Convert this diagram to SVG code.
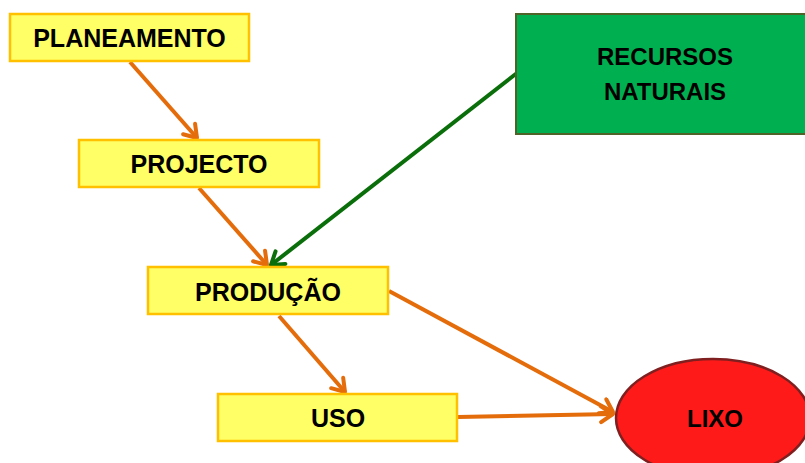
<svg xmlns="http://www.w3.org/2000/svg" width="805" height="463" viewBox="0 0 805 463">
<style>
  .ybox{fill:#FFFF66;stroke:#FFC000;stroke-width:2.5}
  .lbl{font-family:"Liberation Sans",Arial,sans-serif;font-weight:bold;font-size:25px;fill:#000;text-anchor:middle}
  .or{stroke:#E46C0A;stroke-width:4;fill:none;marker-end:url(#ao)}
  .gr{stroke:#0A6E0A;stroke-width:4;fill:none;marker-end:url(#ag)}
</style>
<defs>
  <marker id="ao" markerUnits="userSpaceOnUse" markerWidth="24" markerHeight="24" refX="15" refY="10" orient="auto">
    <path d="M3,2 L15,10 L3,18" fill="none" stroke="#E46C0A" stroke-width="4" stroke-linecap="round" stroke-linejoin="round"/>
  </marker>
  <marker id="ag" markerUnits="userSpaceOnUse" markerWidth="24" markerHeight="24" refX="15" refY="10" orient="auto">
    <path d="M3,2 L15,10 L3,18" fill="none" stroke="#0A6E0A" stroke-width="4" stroke-linecap="round" stroke-linejoin="round"/>
  </marker>
</defs>
<rect width="805" height="463" fill="#fff"/>
<g id="connectors">
  <line class="or" x1="130" y1="62" x2="197" y2="138"/>
  <line class="or" x1="199" y1="188" x2="267" y2="265"/>
  <line class="gr" x1="517" y1="73" x2="271" y2="265"/>
  <line class="or" x1="279" y1="316" x2="345" y2="392"/>
  <line class="or" x1="389" y1="291" x2="613" y2="412"/>
  <line class="or" x1="458" y1="417" x2="613" y2="414"/>
</g>
<g id="planeamento">
  <rect class="ybox" x="10" y="14" width="239" height="47"/>
  <text class="lbl" x="129.5" y="47" font-size="26">PLANEAMENTO</text>
</g>
<g id="projecto">
  <rect class="ybox" x="79" y="140" width="240" height="47"/>
  <text class="lbl" x="199" y="173">PROJECTO</text>
</g>
<g id="producao">
  <rect class="ybox" x="148" y="267" width="240" height="47"/>
  <text class="lbl" x="268" y="301">PRODUÇÃO</text>
</g>
<g id="uso">
  <rect class="ybox" x="218" y="394" width="239" height="47"/>
  <text class="lbl" x="338" y="427">USO</text>
</g>
<g id="recursos">
  <rect x="516" y="14" width="300" height="120" fill="#00B050" stroke="#4F6228" stroke-width="2"/>
  <text class="lbl" x="665" y="65" style="font-size:24px">RECURSOS</text>
  <text class="lbl" x="665" y="100" style="font-size:24px">NATURAIS</text>
</g>
<g id="lixo">
  <ellipse cx="713" cy="418" rx="97" ry="59" fill="#FF1A1A" stroke="#7F1F1F" stroke-width="2.5"/>
  <text class="lbl" x="715" y="427" style="font-size:24px">LIXO</text>
</g>
</svg>
